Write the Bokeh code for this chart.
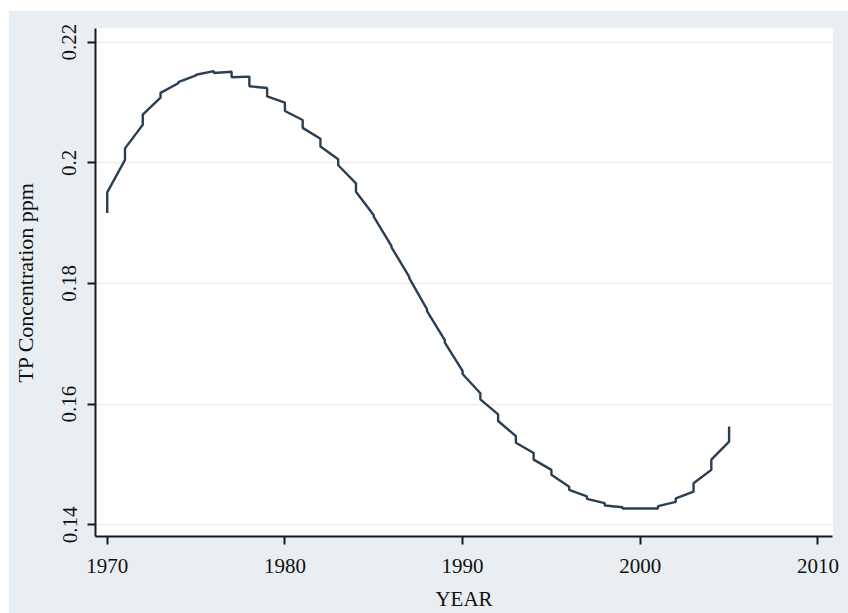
from bokeh.plotting import figure
from bokeh.models import Range1d, FixedTicker
from bokeh.embed import file_html
from bokeh.resources import INLINE

# Data
years = list(range(1970, 2006))
# value at which the curve arrives at each year (before the yearly jump)
arrive = [0.1917, 0.2005, 0.2063, 0.2108, 0.2132, 0.2145, 0.2152, 0.2151,
          0.2143, 0.2124, 0.2100, 0.2071, 0.2040, 0.2006, 0.1966, 0.1913,
          0.1862, 0.1811, 0.1757, 0.1706, 0.1655, 0.1618, 0.1583, 0.1547,
          0.1519, 0.1491, 0.1463, 0.1447, 0.1436, 0.1429, 0.1427, 0.1427,
          0.1438, 0.1455, 0.1491, 0.1538]
# value right after the yearly jump
after = [0.1951, 0.2024, 0.2080, 0.2116, 0.2134, 0.2146, 0.2149, 0.2142,
         0.2127, 0.2110, 0.2086, 0.2058, 0.2027, 0.1996, 0.1952, 0.1911,
         0.1860, 0.1809, 0.1754, 0.1702, 0.1650, 0.1608, 0.1572, 0.1536,
         0.1508, 0.1483, 0.1458, 0.1443, 0.1432, 0.1427, 0.1427, 0.1431,
         0.1444, 0.1469, 0.1508, 0.1563]
x_ticks = [1970, 1980, 1990, 2000, 2010]
y_ticks = [0.14, 0.16, 0.18, 0.20, 0.22]
y_tick_labels = {0.14: "0.14", 0.16: "0.16", 0.18: "0.18", 0.2: "0.2", 0.22: "0.22"}
x_title = "YEAR"
y_title = "TP Concentration ppm"

xs, ys = [], []
for yr, a, b in zip(years, arrive, after):
    xs += [yr, yr]
    ys += [a, b]

FONT = "Liberation Serif"
BG = "#e8eef2"
INK = "#111111"

p = figure(width=840, height=603, output_backend="svg", toolbar_location=None,
           x_range=Range1d(1969.34, 2010.82), y_range=Range1d(0.13806, 0.22227),
           min_border_left=87, min_border_top=18, min_border_right=16,
           min_border_bottom=77)
p.margin = (10, 0, 0, 8)
p.border_fill_color = BG
p.background_fill_color = "white"
p.outline_line_color = None

p.line(xs, ys, line_color="#2a3f54", line_width=2.4)

p.xgrid.grid_line_color = None
p.ygrid.grid_line_color = "#e9edf0"
p.ygrid.grid_line_width = 1.5

p.xaxis.ticker = FixedTicker(ticks=x_ticks)
p.yaxis.ticker = FixedTicker(ticks=y_ticks)
p.yaxis.major_label_overrides = y_tick_labels
p.yaxis.major_label_orientation = "vertical"

for ax in (p.xaxis[0], p.yaxis[0]):
    ax.axis_line_color = "#1a1a1a"
    ax.axis_line_width = 2
    ax.major_tick_line_color = "#1a1a1a"
    ax.major_tick_line_width = 2
    ax.major_tick_in = 0
    ax.major_tick_out = 8
    ax.minor_tick_line_color = None
    ax.major_label_text_font = FONT
    ax.major_label_text_font_size = "21px"
    ax.major_label_text_color = INK
    ax.axis_label_text_font = FONT
    ax.axis_label_text_font_style = "normal"
    ax.axis_label_text_color = INK

p.xaxis.axis_label = x_title
p.xaxis.axis_label_text_font_size = "21px"
p.xaxis.major_label_standoff = 14
p.xaxis.axis_label_standoff = 11
p.yaxis.axis_label = y_title
p.yaxis.axis_label_text_font_size = "22px"
p.yaxis.major_label_standoff = 11
p.yaxis.axis_label_standoff = 22

open("out.html", "w").write(file_html(p, INLINE))
